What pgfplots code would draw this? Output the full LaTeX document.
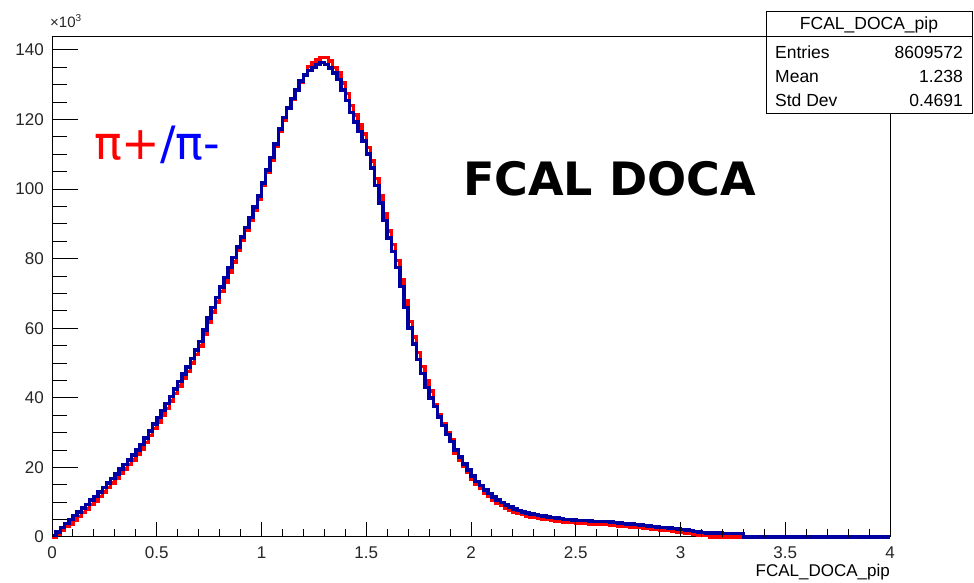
\documentclass[border=0pt]{standalone}
\usepackage{pgfplots}
\usepackage{pgfplotstable}
\pgfplotsset{compat=1.18}
\usepackage{fontspec}
\setmainfont{Liberation Sans}
\newfontfamily\djv{DejaVu Sans}
\definecolor{hred}{RGB}{255,0,0}
\definecolor{hblue}{RGB}{0,0,160}
\definecolor{tblue}{RGB}{0,0,255}

\pgfplotstableread{
x b r
0.00 0.5 0.0
0.02 1.5 0.7
0.04 2.7 1.9
0.06 3.9 3.1
0.08 5.1 3.8
0.10 6.2 4.9
0.12 7.2 5.9
0.14 8.3 7.0
0.16 9.4 8.1
0.18 10.6 9.3
0.20 11.7 10.4
0.22 12.9 11.6
0.24 14.2 12.9
0.26 15.5 14.2
0.28 16.8 15.5
0.30 18.1 16.8
0.32 19.5 18.2
0.34 20.8 19.5
0.36 22.1 20.8
0.38 23.5 22.2
0.40 25.0 23.7
0.42 26.6 25.3
0.44 28.5 27.2
0.46 30.5 29.2
0.48 32.5 31.2
0.50 34.3 33.0
0.52 36.3 35.0
0.54 38.3 37.0
0.56 40.4 39.1
0.58 42.5 41.2
0.60 44.7 43.4
0.62 46.8 45.5
0.64 48.9 47.6
0.66 51.3 50.0
0.68 53.8 52.5
0.70 56.2 54.9
0.72 59.5 58.2
0.74 63.0 61.7
0.76 66.0 64.7
0.78 68.8 67.5
0.80 71.8 70.5
0.82 74.6 73.3
0.84 77.5 76.2
0.86 80.3 79.0
0.88 83.3 82.5
0.90 86.2 85.4
0.92 89.0 88.2
0.94 91.8 91.0
0.96 94.8 94.0
0.98 98.0 97.2
1.00 101.8 101.0
1.02 105.5 104.7
1.04 109.0 108.2
1.06 113.0 112.2
1.08 117.3 116.5
1.10 120.5 119.7
1.12 123.3 123.1
1.14 126.0 125.8
1.16 128.5 128.3
1.18 131.0 130.8
1.20 132.8 132.6
1.22 134.0 135.2
1.24 135.0 136.2
1.26 135.8 137.3
1.28 136.3 137.8
1.30 135.8 137.8
1.32 134.8 136.8
1.34 133.3 135.0
1.36 131.5 133.5
1.38 128.5 130.5
1.40 125.5 127.5
1.42 122.0 124.0
1.44 119.3 121.3
1.46 116.5 118.5
1.48 113.8 115.8
1.50 110.0 112.0
1.52 106.0 108.0
1.54 101.0 103.0
1.56 96.0 98.0
1.58 91.0 93.0
1.60 86.0 88.0
1.62 82.0 84.0
1.64 77.5 79.5
1.66 72.0 74.0
1.68 66.0 68.0
1.70 60.0 62.0
1.72 55.5 57.5
1.74 51.0 53.0
1.76 47.0 49.0
1.78 43.0 45.0
1.80 40.0 42.0
1.82 37.5 38.0
1.84 34.5 35.0
1.86 32.0 32.5
1.88 29.5 30.0
1.90 27.5 28.0
1.92 25.0 24.2
1.94 23.0 22.2
1.96 21.0 20.2
1.98 19.3 18.5
2.00 17.5 16.7
2.02 16.0 15.2
2.04 14.8 14.0
2.06 13.5 12.7
2.08 12.5 11.7
2.10 11.5 10.7
2.12 10.6 9.8
2.14 9.9 9.1
2.16 9.2 8.4
2.18 8.6 7.8
2.20 8.0 7.2
2.22 7.6 6.8
2.24 7.2 6.4
2.26 6.9 6.1
2.28 6.6 5.8
2.30 6.4 5.6
2.32 6.2 5.4
2.34 6.0 5.2
2.36 5.8 5.0
2.38 5.6 4.8
2.40 5.4 4.6
2.42 5.3 4.5
2.44 5.1 4.3
2.46 5.0 4.2
2.48 4.9 4.1
2.50 4.8 4.0
2.52 4.7 3.9
2.54 4.7 3.9
2.56 4.6 3.8
2.58 4.5 3.7
2.60 4.5 3.7
2.62 4.4 3.6
2.64 4.4 3.6
2.66 4.3 3.5
2.68 4.1 3.3
2.70 4.0 3.2
2.72 3.9 3.1
2.74 3.8 3.0
2.76 3.7 2.9
2.78 3.6 2.8
2.80 3.5 2.7
2.82 3.3 2.5
2.84 3.2 2.4
2.86 3.0 2.2
2.88 2.9 2.1
2.90 2.8 2.0
2.92 2.7 1.9
2.94 2.6 1.8
2.96 2.5 1.7
2.98 2.3 1.5
3.00 2.1 1.3
3.02 2.0 1.2
3.04 1.8 1.0
3.06 1.6 0.8
3.08 1.4 0.6
3.10 1.3 0.5
3.12 1.2 0.4
3.14 1.2 0.0
3.16 1.1 0.0
3.18 1.1 0.0
3.20 1.0 0.0
3.22 1.0 0.0
3.24 1.0 0.0
3.26 1.0 0.0
3.28 1.0 0.0
3.30 0.0 0.0
4.00 0.0 0.0
}\histdata

\begin{document}
\begin{tikzpicture}[x=1pt,y=1pt]
\path[use as bounding box] (0pt,0pt) rectangle (974pt,583pt);
% y-tick axis with data
\begin{axis}[
  at={(52pt,46pt)}, anchor=south west, scale only axis,
  width=838pt, height=500pt,
  xmin=0, xmax=4, ymin=0, ymax=143.7,
  axis line style={line width=1pt, black},
  xtick=\empty,
  ytick={0,20,...,140}, minor y tick num=3,
  ytick pos=left, tick align=inside,
  major tick length=26pt, minor tick length=15pt,
  every tick/.style={line width=1pt, black},
  /pgf/number format/assume math mode=true,
  yticklabel style={font=\fontsize{17}{17}\selectfont, anchor=east, inner sep=0pt, xshift=-8pt, text=black!85},
  clip=false,
]
\addplot[const plot mark left, color=hred, line width=3.5pt, line join=miter] table[x=x, y=r] {\histdata};
\addplot[const plot mark left, color=hblue, line width=3.5pt, line join=miter] table[x=x, y=b] {\histdata};
\end{axis}
% x-tick axis
\begin{axis}[
  at={(52pt,46pt)}, anchor=south west, scale only axis,
  width=838pt, height=500pt,
  xmin=0, xmax=4, ymin=0, ymax=143.7,
  axis line style={draw=none},
  ytick=\empty,
  xtick={0,0.5,1,1.5,2,2.5,3,3.5,4}, minor x tick num=4,
  xtick pos=bottom, tick align=inside,
  major tick length=15pt, minor tick length=8pt,
  every tick/.style={line width=1pt, black},
  /pgf/number format/assume math mode=true,
  xticklabel style={font=\fontsize{17}{17}\selectfont, anchor=base, inner sep=0pt, yshift=-22pt, text=black!85},
]
\end{axis}
% exponent label
\node[anchor=base west, inner sep=0pt, font=\fontsize{15}{15}\selectfont, text=black!85] at (50pt,555pt) {×10\raisebox{6pt}{\fontsize{10}{10}\selectfont 3}};
% x axis title
\node[anchor=base east, inner sep=0pt, font=\fontsize{17}{17}\selectfont] at (890pt,6pt) {FCAL\_DOCA\_pip};
% stats box
\draw[line width=1pt, fill=white] (766pt,469pt) rectangle (972pt,571pt);
\draw[line width=1pt] (766pt,546pt) -- (972pt,546pt);
\node[inner sep=0pt, font=\fontsize{17.5}{17.5}\selectfont] at (869pt,558pt) {FCAL\_DOCA\_pip};
\begin{scope}[every node/.style={inner sep=0pt, font=\fontsize{17.5}{17.5}\selectfont}]
\node[anchor=base west] at (775pt,524pt) {Entries};
\node[anchor=base east] at (963pt,524pt) {8609572};
\node[anchor=base west] at (775pt,500pt) {Mean};
\node[anchor=base east] at (963pt,500pt) {1.238};
\node[anchor=base west] at (775pt,476pt) {Std Dev};
\node[anchor=base east] at (963pt,476pt) {0.4691};
\end{scope}
% annotations
\node[anchor=base west, inner sep=0pt, font=\djv\fontsize{46}{46}\selectfont] at (94pt,423pt) {\textcolor{hred}{π+}\textcolor{tblue}{/π-}};
\node[anchor=base west, inner sep=0pt, font=\djv\bfseries\fontsize{46}{46}\selectfont] at (463pt,387pt) {FCAL DOCA};
\end{tikzpicture}
\end{document}
